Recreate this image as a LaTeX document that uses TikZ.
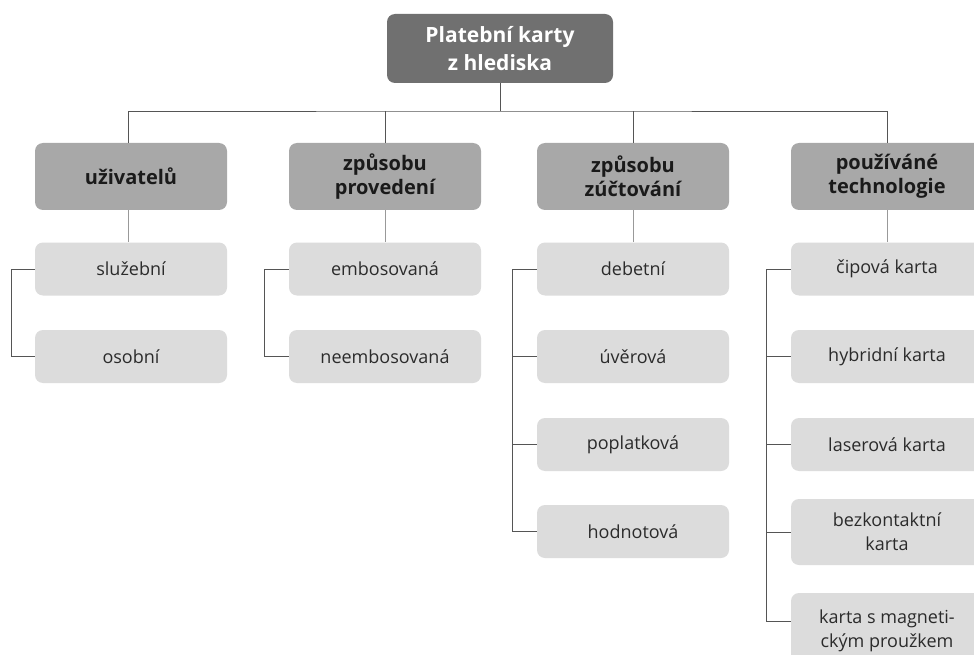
\documentclass[tikz,border=0pt]{standalone}
\usepackage{fontspec}
\setmainfont{Open Sans}
\definecolor{rootfill}{HTML}{707070}
\definecolor{midfill}{HTML}{A8A8A8}
\definecolor{leaffill}{HTML}{DCDCDC}
\definecolor{linecol}{HTML}{555555}
\definecolor{txtdark}{HTML}{1A1A1A}
\definecolor{txtleaf}{HTML}{2B2B2B}
\tikzset{
  rootbox/.style={rectangle, rounded corners=8pt, fill=rootfill, text=white,
    minimum width=226pt, minimum height=69pt, align=center,
    font=\fontsize{21}{28}\selectfont\bfseries, inner sep=0pt},
  midbox/.style={rectangle, rounded corners=8pt, fill=midfill, text=txtdark,
    minimum width=192pt, minimum height=67pt, align=center,
    font=\fontsize{20}{24}\selectfont\bfseries, inner sep=0pt},
  leafbox/.style={rectangle, rounded corners=8pt, fill=leaffill, text=txtleaf,
    minimum width=192pt, minimum height=53pt, align=center,
    font=\fontsize{18}{24}\selectfont, inner sep=0pt},
  tallleaf/.style={leafbox, minimum height=66pt},
  conn/.style={draw=linecol, line width=0.9pt},
  softconn/.style={draw=gray!80, line width=0.9pt}
}
\begin{document}
\begin{tikzpicture}[x=1pt,y=-1pt]
\useasboundingbox (0,0) rectangle (974,655);
\fill[white] (0,0) rectangle (974,655);
% root
\node[rootbox] (root) at (500,48.5) {Platební karty\\ z hlediska};
% level 1
\node[midbox] (c1) at (131,176.5) {uživatelů};
\node[midbox] (c2) at (385,176.5) {způsobu\\ provedení};
\node[midbox] (c3) at (633,176.5) {způsobu\\ zúčtování};
\node[midbox] (c4) at (887,176.5) {používáné\\ technologie};
% level 2
\node[leafbox] (a1) at (131,269) {služební};
\node[leafbox] (a2) at (131,356.5) {osobní};
\node[leafbox] (b1) at (385,269) {embosovaná};
\node[leafbox] (b2) at (385,356.5) {neembosovaná};
\node[leafbox] (d1) at (633,269) {debetní};
\node[leafbox] (d2) at (633,356.5) {úvěrová};
\node[leafbox] (d3) at (633,444.5) {poplatková};
\node[leafbox] (d4) at (633,531.5) {hodnotová};
\node[leafbox] (e1) at (887,269) {čipová karta};
\node[leafbox] (e2) at (887,356.5) {hybridní karta};
\node[leafbox] (e3) at (887,444.5) {laserová karta};
\node[tallleaf] (e4) at (887,532) {bezkontaktní\\ karta};
\node[tallleaf, minimum height=76pt] (e5) at (887,631) {karta s magneti-\\ ckým proužkem};
% bus
\coordinate (bus) at (500,111);
\coordinate (c1top) at ([xshift=-3pt]c1.north);
\coordinate (e5in) at ([yshift=10pt]e5.west);
\draw[conn] (root.south) -- (bus);
\draw[conn] (c1top) |- (bus) -| (c4.north);
\draw[conn] (c2.north) -- (c2.north |- bus);
\draw[conn] (c3.north) -- (c3.north |- bus);
% level1 to first leaf
\draw[softconn] ([xshift=-3pt]c1.south) -- ([xshift=-3pt]a1.north);
\draw[softconn] (c2.south) -- (b1.north);
\draw[softconn] (c3.south) -- (d1.north);
\draw[softconn] (c4.south) -- (e1.north);
% side rails
\draw[conn] (a1.west) -- ++(-23,0) |- (a2.west);
\draw[conn] (b1.west) -- ++(-24,0) |- (b2.west);
\draw[conn] (d1.west) -- ++(-24,0) |- (d4.west);
\draw[conn] (d2.west) -- ++(-24,0);
\draw[conn] (d3.west) -- ++(-24,0);
\draw[conn] (e1.west) -- ++(-24,0) |- (e5in);
\draw[conn] (e2.west) -- ++(-24,0);
\draw[conn] (e3.west) -- ++(-24,0);
\draw[conn] (e4.west) -- ++(-24,0);
\end{tikzpicture}
\end{document}
